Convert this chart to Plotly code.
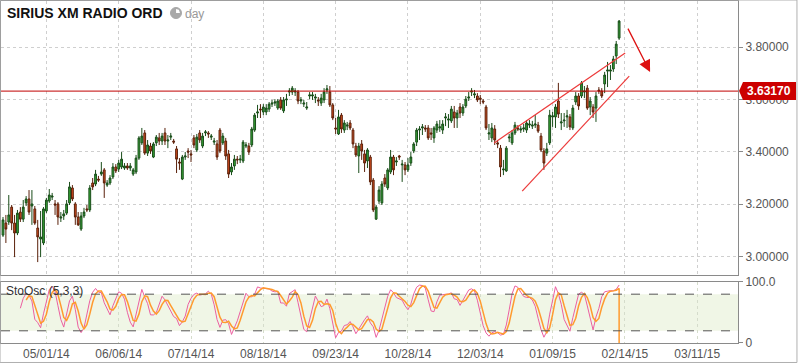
import plotly.graph_objects as go

# ---------------- data ----------------
opens = [
    3.082, 3.128, 3.132, 3.189, 3.128, 3.090, 3.170, 3.143, 3.205, 3.220,
    3.193, 3.182, 3.109, 3.067, 3.052, 3.174, 3.212, 3.227, 3.201, 3.201,
    3.147, 3.155, 3.166, 3.205, 3.262, 3.201, 3.151, 3.105, 3.155, 3.182,
    3.178, 3.281, 3.277, 3.296, 3.315, 3.331, 3.273, 3.281, 3.304, 3.342,
    3.334, 3.342, 3.338, 3.346, 3.338, 3.315, 3.323, 3.376, 3.434, 3.472,
    3.395, 3.422, 3.380, 3.434, 3.453, 3.441, 3.472, 3.441, 3.456, 3.441,
    3.411, 3.361, 3.296, 3.380, 3.403, 3.392, 3.453, 3.407, 3.472, 3.422,
    3.472, 3.472, 3.456, 3.437, 3.430, 3.483, 3.434, 3.441, 3.392, 3.323,
    3.346, 3.372, 3.369, 3.365, 3.422, 3.422, 3.426, 3.483, 3.548, 3.563,
    3.552, 3.552, 3.563, 3.582,
    3.586,
    3.567, 3.598, 3.556, 3.598, 3.628, 3.628,
    3.628, 3.628, 3.594, 3.582, 3.567, 3.613, 3.613, 3.605, 3.598, 3.586,
    3.598, 3.636, 3.628, 3.579, 3.491, 3.468, 3.540, 3.483, 3.498, 3.510,
    3.483, 3.422, 3.384, 3.430, 3.392, 3.365, 3.380, 3.292, 3.143, 3.212,
    3.205, 3.300, 3.262, 3.323, 3.380, 3.361, 3.384, 3.350, 3.350, 3.331,
    3.357, 3.403, 3.437, 3.483, 3.491,
    3.491,
    3.491, 3.472, 3.453, 3.483, 3.491,
    3.483, 3.529, 3.521, 3.518, 3.552, 3.529, 3.571, 3.548, 3.575, 3.605,
    3.628, 3.617, 3.613, 3.605, 3.594, 3.571, 3.468, 3.453, 3.487, 3.434,
    3.414, 3.331, 3.327, 3.453, 3.434, 3.472, 3.491, 3.483, 3.487, 3.483,
    3.502,
    3.498,
    3.502, 3.502, 3.460, 3.403, 3.395, 3.434, 3.533, 3.533, 3.594,
    3.510, 3.518, 3.533, 3.533, 3.491, 3.590, 3.613, 3.613, 3.628, 3.643,
    3.571, 3.571, 3.567, 3.636, 3.632, 3.659, 3.708, 3.708, 3.716, 3.766, 3.834,
]
highs = [
    3.151, 3.159, 3.235, 3.197, 3.159, 3.178, 3.189, 3.216, 3.231, 3.254,
    3.254, 3.193, 3.140, 3.174, 3.189, 3.224, 3.258, 3.243, 3.216, 3.208,
    3.170, 3.178, 3.216, 3.285, 3.273, 3.208, 3.170, 3.170, 3.186, 3.197,
    3.273, 3.300, 3.331, 3.308, 3.361, 3.338, 3.292, 3.311, 3.357, 3.353,
    3.369, 3.399, 3.357, 3.357, 3.357, 3.338, 3.388, 3.460, 3.491, 3.483,
    3.445, 3.434, 3.437, 3.464, 3.472, 3.472, 3.491, 3.464, 3.472, 3.449,
    3.422, 3.376, 3.388, 3.399, 3.414, 3.407, 3.464, 3.468, 3.483, 3.472,
    3.483, 3.479, 3.468, 3.453, 3.445, 3.491, 3.472, 3.453, 3.407, 3.357,
    3.388, 3.384, 3.388, 3.445, 3.437, 3.434, 3.495, 3.548, 3.579, 3.582,
    3.582, 3.582, 3.590, 3.598,
    3.601,
    3.601, 3.609, 3.609, 3.621, 3.643, 3.651,
    3.643, 3.636, 3.609, 3.598, 3.590, 3.628, 3.628, 3.621, 3.609, 3.621,
    3.643, 3.655, 3.651, 3.586, 3.529, 3.560, 3.548, 3.521, 3.514, 3.521,
    3.491, 3.434, 3.434, 3.445, 3.407, 3.414, 3.388, 3.300, 3.197, 3.269,
    3.288, 3.315, 3.338, 3.407, 3.388, 3.380, 3.388, 3.369, 3.361, 3.376,
    3.399, 3.437, 3.491, 3.498, 3.506,
    3.502,
    3.502, 3.491, 3.498, 3.518, 3.521,
    3.521, 3.548, 3.544, 3.575, 3.575, 3.560, 3.586, 3.582, 3.613, 3.628,
    3.643, 3.636, 3.624, 3.617, 3.601, 3.579, 3.506, 3.510, 3.502, 3.445,
    3.426, 3.369, 3.422, 3.468, 3.483, 3.514, 3.502, 3.498, 3.506, 3.521,
    3.521,
    3.518,
    3.540, 3.514, 3.472, 3.414, 3.434, 3.560, 3.552, 3.582, 3.663,
    3.548, 3.548, 3.560, 3.544, 3.579, 3.628, 3.624, 3.670, 3.651, 3.655,
    3.609, 3.582, 3.628, 3.647, 3.643, 3.705, 3.743, 3.731, 3.766, 3.823, 3.903,
]
lows = [
    3.075, 3.052, 3.121, 3.101, 2.998, 3.082, 3.132, 3.132, 3.193, 3.159,
    3.121, 3.121, 2.979, 2.998, 3.044, 3.166, 3.205, 3.216, 3.159, 3.121,
    3.132, 3.140, 3.159, 3.197, 3.212, 3.121, 3.117, 3.098, 3.147, 3.170,
    3.170, 3.254, 3.269, 3.285, 3.308, 3.224, 3.266, 3.273, 3.296, 3.319,
    3.323, 3.334, 3.331, 3.331, 3.327, 3.308, 3.315, 3.369, 3.426, 3.388,
    3.384, 3.392, 3.376, 3.422, 3.426, 3.426, 3.426, 3.414, 3.445, 3.430,
    3.319, 3.331, 3.292, 3.369, 3.376, 3.361, 3.414, 3.399, 3.434, 3.414,
    3.460, 3.453, 3.445, 3.426, 3.369, 3.395, 3.426, 3.369, 3.300, 3.311,
    3.331, 3.353, 3.357, 3.357, 3.414, 3.388, 3.418, 3.476, 3.529, 3.529,
    3.540, 3.540, 3.552, 3.571,
    3.575,
    3.560, 3.560, 3.548, 3.575, 3.613, 3.617,
    3.613, 3.582, 3.582, 3.571, 3.560, 3.601, 3.598, 3.586, 3.575, 3.575,
    3.586, 3.621, 3.571, 3.521, 3.468, 3.464, 3.472, 3.472, 3.483, 3.483,
    3.414, 3.380, 3.319, 3.369, 3.323, 3.338, 3.273, 3.170, 3.140, 3.201,
    3.197, 3.266, 3.254, 3.315, 3.311, 3.346, 3.369, 3.285, 3.311, 3.323,
    3.346, 3.395, 3.422, 3.445, 3.464,
    3.476,
    3.445, 3.445, 3.434, 3.472, 3.476,
    3.468, 3.498, 3.491, 3.510, 3.491, 3.491, 3.529, 3.537, 3.567, 3.594,
    3.613, 3.605, 3.590, 3.582, 3.582, 3.483, 3.445, 3.437, 3.426, 3.414,
    3.304, 3.311, 3.323, 3.437, 3.426, 3.464, 3.479, 3.472, 3.476, 3.472,
    3.491,
    3.487,
    3.491, 3.472, 3.399, 3.331, 3.384, 3.426, 3.495, 3.491, 3.529,
    3.483, 3.495, 3.491, 3.483, 3.483, 3.579, 3.560, 3.605, 3.605, 3.560,
    3.540, 3.529, 3.514, 3.621, 3.605, 3.624, 3.647, 3.674, 3.705, 3.735, 3.827,
]
closes = [
    3.140, 3.105, 3.159, 3.128, 3.090, 3.166, 3.143, 3.189, 3.220, 3.170,
    3.201, 3.128, 3.075, 3.075, 3.182, 3.216, 3.235, 3.231, 3.197, 3.151,
    3.151, 3.163, 3.201, 3.266, 3.220, 3.151, 3.121, 3.155, 3.170, 3.178,
    3.262, 3.266, 3.315, 3.292, 3.323, 3.281, 3.281, 3.300, 3.342, 3.327,
    3.357, 3.372, 3.346, 3.338, 3.346, 3.331, 3.376, 3.453, 3.460, 3.395,
    3.426, 3.403, 3.430, 3.456, 3.441, 3.460, 3.441, 3.445, 3.460, 3.437,
    3.372, 3.357, 3.380, 3.384, 3.399, 3.388, 3.426, 3.456, 3.445, 3.460,
    3.476, 3.468, 3.460, 3.441, 3.380, 3.403, 3.460, 3.384, 3.315, 3.342,
    3.372, 3.369, 3.372, 3.437, 3.426, 3.399, 3.487, 3.540, 3.552, 3.560,
    3.571, 3.567, 3.582, 3.586,
    3.590,
    3.594, 3.567, 3.598, 3.601, 3.632, 3.643,
    3.632, 3.594, 3.598, 3.586, 3.571, 3.617, 3.617, 3.609, 3.594, 3.605,
    3.628, 3.640, 3.579, 3.529, 3.487, 3.533, 3.487, 3.510, 3.502, 3.491,
    3.430, 3.388, 3.422, 3.403, 3.357, 3.407, 3.285, 3.178, 3.189, 3.254,
    3.277, 3.277, 3.331, 3.380, 3.331, 3.365, 3.380, 3.353, 3.331, 3.350,
    3.380, 3.430, 3.483, 3.487, 3.495,
    3.487,
    3.453, 3.468, 3.491, 3.506, 3.495,
    3.506, 3.533, 3.525, 3.563, 3.529, 3.548, 3.548, 3.571, 3.601, 3.609,
    3.632, 3.621, 3.598, 3.601, 3.590, 3.491, 3.472, 3.491, 3.445, 3.430,
    3.342, 3.334, 3.414, 3.456, 3.472, 3.502, 3.487, 3.487, 3.491, 3.510,
    3.506,
    3.502,
    3.506, 3.479, 3.407, 3.357, 3.411, 3.540, 3.537, 3.571, 3.544,
    3.514, 3.521, 3.537, 3.495, 3.567, 3.613, 3.575, 3.663, 3.632, 3.567,
    3.594, 3.552, 3.613, 3.632, 3.613, 3.693, 3.712, 3.712, 3.754, 3.811, 3.899,
]
assert len(opens) == len(highs) == len(lows) == len(closes)

tick_labels = ["05/01/14", "06/06/14", "07/14/14", "08/18/14", "09/23/14",
               "10/28/14", "12/03/14", "01/09/15", "02/14/15", "03/11/15"]
first_tick_bar = 15
bars_per_tick = 25
price_ticks = [3.0, 3.2, 3.4, 3.6, 3.8]
price_line = 3.6317
stoch_params = (5, 3, 3)
stoch_end_value = 0

# wedge (channel) lines and arrow, in bar index / price units
upper_line = ((169.8, 3.434), (215.1, 3.777))
lower_line = ((179.5, 3.250), (216.5, 3.689))
arrow_from = (215.8, 3.876)
arrow_to = (223.7, 3.705)

# ---------------- derived ----------------
n = len(closes)
bars = list(range(n))
tick_vals = [first_tick_bar + bars_per_tick * i for i in range(len(tick_labels))]

kp, ks, ds = stoch_params
k_raw = [None] * n
for i in range(kp - 1, n):
    hh = max(highs[i - kp + 1:i + 1])
    ll = min(lows[i - kp + 1:i + 1])
    k_raw[i] = 100.0 * (closes[i] - ll) / (hh - ll) if hh > ll else 50.0


def sma(a, p):
    out = [None] * len(a)
    for i in range(p - 1, len(a)):
        w = a[i - p + 1:i + 1]
        if all(v is not None for v in w):
            out[i] = sum(w) / p
    return out


k_line = sma(k_raw, ks)
d_line = sma(k_line, ds)
d_x = bars + [bars[-1]]
d_y = d_line + [stoch_end_value]

FONT = "Arial, Liberation Sans, sans-serif"
x_range = [-0.69, 254.1]

fig = go.Figure()
fig.add_trace(go.Candlestick(
    x=bars, open=opens, high=highs, low=lows, close=closes,
    increasing=dict(line=dict(color="#1a4d1a", width=1), fillcolor="#35a535"),
    decreasing=dict(line=dict(color="#5a200a", width=1), fillcolor="#d24c1e"),
    whiskerwidth=0, xaxis="x", yaxis="y", showlegend=False, hoverinfo="skip",
))
fig.add_trace(go.Scatter(x=bars, y=k_line, mode="lines", xaxis="x2", yaxis="y2",
                         line=dict(color="#ec5fa0", width=1), showlegend=False,
                         hoverinfo="skip"))
fig.add_trace(go.Scatter(x=d_x, y=d_y, mode="lines", xaxis="x2", yaxis="y2",
                         line=dict(color="#ff9a2e", width=1.5), showlegend=False,
                         hoverinfo="skip"))

grid = dict(showgrid=True, gridcolor="#cfcfcf", griddash="dot", gridwidth=1)
axis_line = dict(showline=True, linecolor="#8a8a8a", linewidth=1, mirror=True,
                 zeroline=False, automargin=False)

fig.update_layout(
    width=798, height=363,
    margin=dict(l=1, r=60, t=1, b=20, autoexpand=False),
    paper_bgcolor="white", plot_bgcolor="white",
    font=dict(family=FONT, size=12, color="#555"),
    boxgap=0.12,
    xaxis=dict(domain=[0, 1], range=x_range, anchor="y", tickvals=tick_vals,
               showticklabels=False, ticks="", rangeslider=dict(visible=False),
               **grid, **axis_line),
    yaxis=dict(domain=[0.1988, 1], range=[2.9297, 3.9756], side="right",
               tickvals=price_ticks, tickformat=".5f", ticks="outside", ticklen=4,
               tickcolor="#8a8a8a", tickfont=dict(size=12, color="#555"),
               **grid, **axis_line),
    xaxis2=dict(domain=[0, 1], range=x_range, anchor="y2", tickvals=tick_vals,
                ticktext=tick_labels, ticks="", tickfont=dict(size=12, color="#555"),
                showgrid=True, gridcolor="#d5dccb", griddash="dot", **axis_line),
    yaxis2=dict(domain=[0, 0.1784], range=[0, 100], side="right", tickvals=[0, 100],
                ticktext=["0", "100.0"], ticks="outside", ticklen=4, tickcolor="#8a8a8a",
                showgrid=False, tickfont=dict(size=12, color="#555"), **axis_line),
)

shapes = [
    # stochastic band
    dict(type="rect", xref="x2", yref="y2", x0=x_range[0], x1=x_range[1], y0=20, y1=80,
         fillcolor="#f0f6e6", line=dict(width=0), layer="below"),
    dict(type="line", xref="x2", yref="y2", x0=x_range[0], x1=x_range[1], y0=80, y1=80,
         line=dict(color="#555", width=1, dash="dash")),
    dict(type="line", xref="x2", yref="y2", x0=x_range[0], x1=x_range[1], y0=20, y1=20,
         line=dict(color="#555", width=1, dash="dash")),
    # horizontal price line
    dict(type="line", xref="paper", yref="y", x0=0, x1=1, y0=price_line, y1=price_line,
         line=dict(color="#c00000", width=1)),
    # channel lines
    dict(type="line", xref="x", yref="y", x0=upper_line[0][0], y0=upper_line[0][1],
         x1=upper_line[1][0], y1=upper_line[1][1], line=dict(color="#ec3a3a", width=1.2)),
    dict(type="line", xref="x", yref="y", x0=lower_line[0][0], y0=lower_line[0][1],
         x1=lower_line[1][0], y1=lower_line[1][1], line=dict(color="#ec3a3a", width=1.2)),
    # price tag
    dict(type="path", xref="paper", yref="y",
         path=f"M 1.0014,{price_line} L 1.0068,3.6664 L 1.0787,3.6664 "
              f"L 1.0787,3.5977 L 1.0068,3.5977 Z",
         fillcolor="#cc0000", line=dict(width=0)),
    # clock icon
    dict(type="circle", xref="paper", yref="paper", x0=0.2300, x1=0.2449,
         y0=0.9488, y1=0.9810, fillcolor="#a8a8a8", line=dict(color="#a8a8a8", width=1)),
    dict(type="path", xref="paper", yref="paper",
         path="M 0.2375,0.9649 L 0.2375,0.9766 L 0.2413,0.9743 L 0.2429,0.9649 Z",
         fillcolor="white", line=dict(width=0)),
    # outer border
    dict(type="rect", xref="paper", yref="paper", x0=-0.0013, x1=1.0800, y0=-0.0570,
         y1=1.0029, line=dict(color="#b0b0b0", width=1)),
]
fig.update_layout(shapes=shapes)

annotations = [
    dict(text="<b>SIRIUS XM RADIO ORD</b>", xref="paper", yref="paper", x=0.0054, y=0.965,
         xanchor="left", yanchor="middle", showarrow=False,
         font=dict(family=FONT, size=14, color="#111")),
    dict(text="day", xref="paper", yref="paper", x=0.2466, y=0.963,
         xanchor="left", yanchor="middle", showarrow=False,
         font=dict(family=FONT, size=12, color="#999")),
    dict(text="StoOsc (5,3,3)", xref="paper", yref="paper", x=0.004, y=0.152,
         xanchor="left", yanchor="middle", showarrow=False,
         font=dict(family=FONT, size=12, color="#333")),
    dict(text=f"<b>{price_line:.5f}</b>", xref="paper", yref="y", x=1.0427, y=price_line,
         xanchor="center", yanchor="middle", showarrow=False,
         font=dict(family=FONT, size=12, color="white")),
    dict(text="", xref="x", yref="y", x=arrow_to[0], y=arrow_to[1],
         axref="x", ayref="y", ax=arrow_from[0], ay=arrow_from[1],
         showarrow=True, arrowhead=2, arrowsize=1.8, arrowwidth=1.3,
         arrowcolor="#dd1111", standoff=0),
]
fig.update_layout(annotations=annotations)

fig.write_html("out.html", config={"displayModeBar": False},
               post_script="document.body.style.margin='0px';")
